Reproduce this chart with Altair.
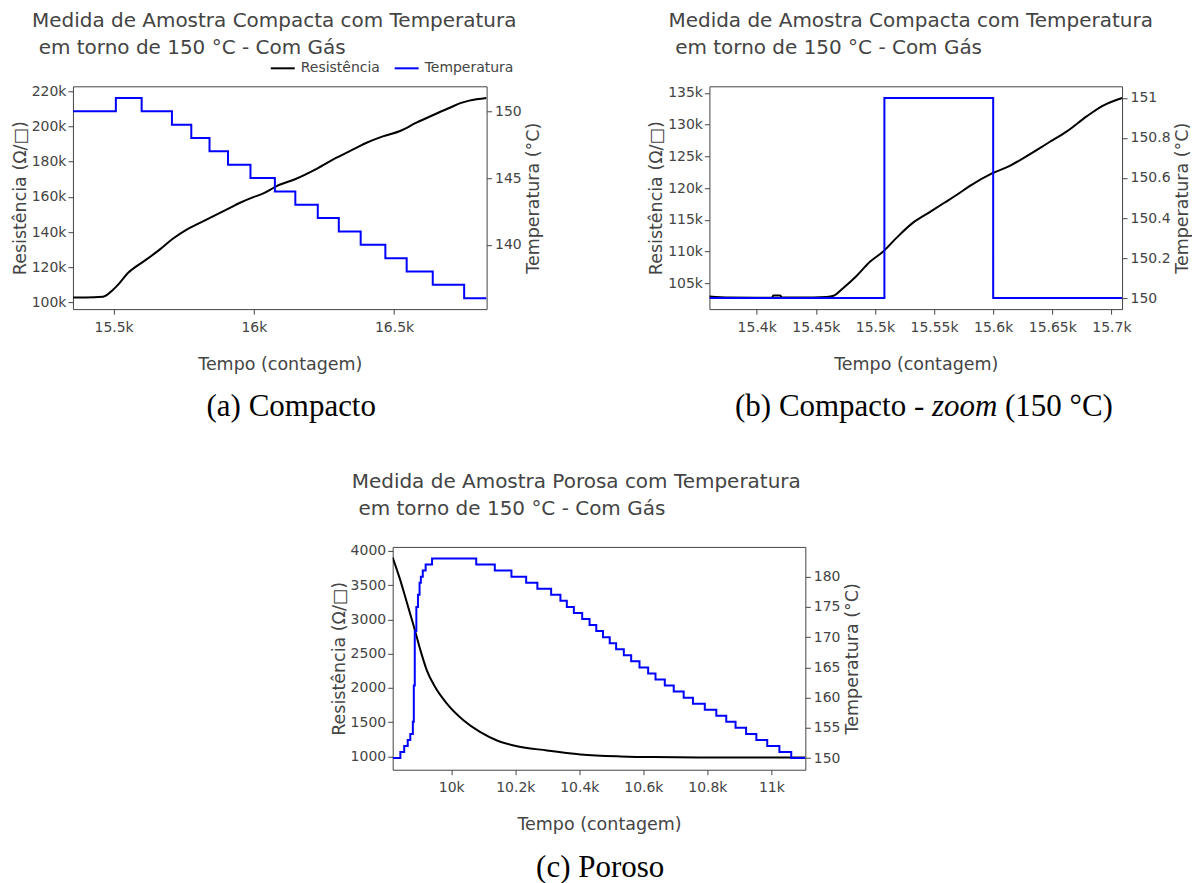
import altair as alt
import pandas as pd

FONT = "DejaVu Sans"
SERIF = "Liberation Serif"
TXT = "#444"

SERIES = ["Resistência", "Temperatura"]
SERIES_COLORS = ["#000000", "#0000ff"]

TITLE_COMPACTA = "Medida de Amostra Compacta com Temperatura"
TITLE_POROSA = "Medida de Amostra Porosa com Temperatura"
TITLE_LINE2 = "em torno de 150 °C - Com Gás"
X_TITLE = "Tempo (contagem)"
Y_TITLE = "Resistência (Ω/□)"
Y2_TITLE = "Temperatura (°C)"

CAP_A = "(a) Compacto"
CAP_B1 = "(b) Compacto -"
CAP_B2 = "zoom"
CAP_B3 = "(150 °C)"
CAP_C = "(c) Poroso"

# ---------------- (a) Compacto ----------------
A_RES_T = [15355, 15400, 15462, 15498, 15521, 15551, 15581, 15616, 15664, 15711,
           15759, 15806, 15854, 15913, 15949, 15996, 16032, 16080, 16151, 16222,
           16293, 16365, 16400, 16460, 16519, 16578, 16638, 16697, 16739, 16768, 16830]
A_RES_V = [102800, 102800, 103200, 107200, 111000, 116700, 120500, 124300, 130000, 136200,
           141300, 145100, 148900, 153600, 156500, 159700, 161800, 166000, 170300, 175800,
           182100, 187800, 190600, 194400, 197300, 202000, 206400, 210500, 213400, 214700, 216200]
A_TMP_T = [15355, 15508, 15600, 15708, 15777, 15842, 15908, 15988, 16075, 16148,
           16228, 16303, 16381, 16469, 16545, 16638, 16750, 16830]
A_TMP_V = [150, 151, 150, 149, 148, 147, 146, 145, 144, 143,
           142, 141, 140, 139, 138, 137, 136, 136]
A_X_TICKS = [15500, 16000, 16500]
A_Y_TICKS = [100000, 120000, 140000, 160000, 180000, 200000, 220000]
A_T_TICKS = [140, 145, 150]

# ---------------- (b) Compacto zoom ----------------
B_RES_T = [15360, 15377, 15400, 15413, 15414, 15420, 15421, 15428, 15448, 15459,
           15465, 15473, 15484, 15496, 15507, 15518, 15532, 15545, 15558, 15569,
           15580, 15599, 15614, 15628, 15648, 15662, 15679, 15693, 15709]
B_RES_V = [102900, 102740, 102700, 102700, 103050, 103050, 102740, 102740, 102740, 102800,
           103000, 104200, 106050, 108400, 110000, 112100, 114500, 116050, 117600, 118900,
           120300, 122300, 123500, 125000, 127300, 128900, 131300, 133000, 134200]
B_TMP_T = [15360, 15508, 15600, 15709]
B_TMP_V = [150, 151, 150, 150]
B_X_TICKS = [15400, 15450, 15500, 15550, 15600, 15650, 15700]
B_Y_TICKS = [105000, 110000, 115000, 120000, 125000, 130000, 135000]
B_T_TICKS = [150, 150.2, 150.4, 150.6, 150.8, 151]

# ---------------- (c) Poroso ----------------
C_RES_T = [9817, 9841, 9862, 9883, 9904, 9924, 9950, 9987, 10039, 10091,
           10143, 10195, 10299, 10404, 10529, 10633, 10841, 11106]
C_RES_V = [3903, 3570, 3235, 2900, 2544, 2252, 2009, 1767, 1524, 1354,
           1233, 1160, 1087, 1029, 1000, 990, 985, 985]
C_TMP_T = [9817, 9841, 9853, 9864, 9872, 9880, 9883, 9886, 9891, 9896,
           9901, 9905, 9911, 9920, 9940, 10078, 10136, 10188, 10234, 10269,
           10312, 10341, 10361, 10383, 10409, 10432, 10453, 10474, 10495, 10515,
           10539, 10562, 10588, 10615, 10638, 10667, 10695, 10726, 10755, 10792,
           10828, 10859, 10888, 10921, 10953, 10987, 11025, 11062, 11106]
C_TMP_V = [150, 151, 152, 153, 154, 156, 162, 171, 175, 177,
           179, 180, 181, 182, 183, 182, 181, 180, 179, 178,
           177, 176, 175, 174, 173, 172, 171, 170, 169, 168,
           167, 166, 165, 164, 163, 162, 161, 160, 159, 158,
           157, 156, 155, 154, 153, 152, 151, 150, 150]
C_X_TICKS = [10000, 10200, 10400, 10600, 10800, 11000]
C_Y_TICKS = [1000, 1500, 2000, 2500, 3000, 3500, 4000]
C_T_TICKS = [150, 155, 160, 165, 170, 175, 180]


def mk_axis(title, values, fmt, orient, label_pad, title_pad, **kw):
    return alt.Axis(title=title, values=values, format=fmt, orient=orient,
                    grid=False, domain=False, ticks=True, tickSize=5,
                    tickColor=TXT, tickWidth=1,
                    labelFont=FONT, labelFontSize=14, labelColor=TXT,
                    labelPadding=label_pad, labelFlush=False, labelOverlap=False,
                    titleFont=FONT, titleFontSize=17.5, titleFontWeight="normal",
                    titleColor=TXT, titlePadding=title_pad, **kw)


def text_layer(text, x, y, align, font=SERIF, size=31, color="black", italic=False):
    return alt.Chart(pd.DataFrame({"c": [text]})).mark_text(
        font=font, fontSize=size, align=align, baseline="alphabetic",
        color=color, fontStyle="italic" if italic else "normal"
    ).encode(text="c:N", x=alt.value(x), y=alt.value(y))


def panel(res_t, res_v, tmp_t, tmp_v, xdom, xticks, ydom, yticks, yfmt,
          tdom, tticks, tfmt, title, captions, width, height):
    df_r = pd.DataFrame({"t": res_t, "v": res_v, "s": SERIES[0]})
    df_t = pd.DataFrame({"t": tmp_t, "v": tmp_v, "s": SERIES[1]})
    legend = alt.Legend(orient="none", legendX=197, legendY=-31, direction="horizontal",
                        title=None, symbolType="stroke", symbolStrokeWidth=2,
                        symbolSize=576, labelFont=FONT, labelFontSize=14,
                        labelColor=TXT, labelOffset=5, columnPadding=10, padding=0)
    color = alt.Color("s:N", scale=alt.Scale(domain=SERIES, range=SERIES_COLORS), legend=legend)
    x = alt.X("t:Q", scale=alt.Scale(domain=xdom, nice=False, zero=False),
              axis=mk_axis(X_TITLE, xticks, "~s", "bottom", 6, 21))
    res = alt.Chart(df_r).mark_line(strokeWidth=2, interpolate="monotone", clip=True).encode(
        x=x,
        y=alt.Y("v:Q", scale=alt.Scale(domain=ydom, nice=False, zero=False),
                axis=mk_axis(Y_TITLE, yticks, yfmt, "left", 2, 2)),
        color=color)
    tmp = alt.Chart(df_t).mark_line(strokeWidth=2, interpolate="step-after", clip=True).encode(
        x=x,
        y=alt.Y("v:Q", scale=alt.Scale(domain=tdom, nice=False, zero=False),
                axis=mk_axis(Y2_TITLE, tticks, tfmt, "right", 3, 3,
                             titleAngle=270, titleBaseline="top")),
        color=color)
    line2 = text_layer(TITLE_LINE2, -34.3, -32, "left", font=FONT, size=20, color=TXT)
    return alt.layer(res, tmp, line2, *captions).resolve_scale(y="independent").properties(
        width=width, height=height,
        title=alt.TitleParams(text=title, anchor="start", frame="group", dx=-41,
                              offset=7.4, font=FONT, fontSize=20, fontWeight="normal",
                              color=TXT))


pa = panel(A_RES_T, A_RES_V, A_TMP_T, A_TMP_V, [15355, 16830], A_X_TICKS,
           [96200, 222840], A_Y_TICKS, "~s", [135.18, 151.875], A_T_TICKS, "~g",
           TITLE_COMPACTA, [text_layer(CAP_A, 218.5, 330, "center")], 414, 223)

pb = panel(B_RES_T, B_RES_V, B_TMP_T, B_TMP_V, [15360, 15709], B_X_TICKS,
           [100900, 136050], B_Y_TICKS, "~s", [149.945, 151.058], B_T_TICKS, "~g",
           TITLE_COMPACTA,
           [text_layer(CAP_B1, 215, 330, "right"),
            text_layer(CAP_B2, 222.7, 330, "left", italic=True),
            text_layer(CAP_B3, 295.9, 330, "left")], 413, 223)

pc = panel(C_RES_T, C_RES_V, C_TMP_T, C_TMP_V, [9817, 11106], C_X_TICKS,
           [806, 4058], C_Y_TICKS, "d", [148.08, 184.92], C_T_TICKS, "~g",
           TITLE_POROSA, [text_layer(CAP_C, 207.7, 330, "center")], 413, 223)

spacer = alt.Chart(pd.DataFrame({"s": [0]})).mark_point(opacity=0).encode(
    x=alt.value(0), y=alt.value(0)).properties(width=256, height=1,
                                                view=alt.ViewBackground(stroke=None))

top = alt.hconcat(pa, pb, spacing=104)
bottom = alt.hconcat(spacer, pc, spacing=0)

chart = alt.vconcat(top, bottom, spacing=48).properties(
    padding={"left": 2, "top": 2, "right": 0, "bottom": 0}
).configure_view(stroke=TXT, strokeWidth=1)

chart.save("out.html", embed_options={"renderer": "svg", "actions": False})
